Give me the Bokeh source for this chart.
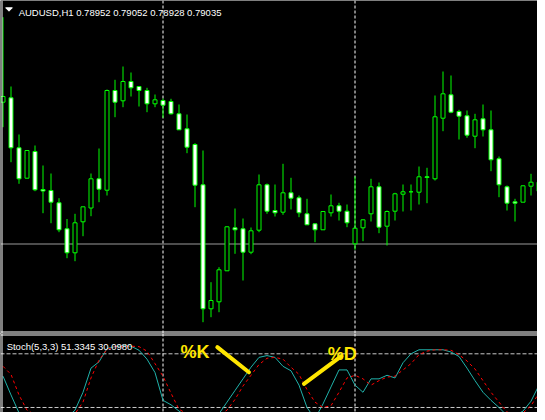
from bokeh.plotting import figure
from bokeh.layouts import column
from bokeh.models import ColumnDataSource, Range1d, Span, Label
from bokeh.embed import file_html
from bokeh.resources import INLINE

# ---- data (AUDUSD H1) ----
bar_index = list(range(-1, 68))
opens = [0.78983, 0.79027, 0.78527, 0.78223, 0.78490, 0.78110, 0.78100, 0.77977, 0.77717, 0.77477,
         0.77787, 0.77925, 0.78217, 0.78103, 0.79100, 0.78997, 0.79190, 0.79140, 0.79100, 0.78967,
         0.79000, 0.78990, 0.78867, 0.78717, 0.78560, 0.78157, 0.76917, 0.76987, 0.77297, 0.77727,
         0.77717, 0.77483, 0.77703, 0.78157, 0.77900, 0.77883, 0.78077, 0.78027, 0.77867, 0.77767,
         0.77707, 0.77877, 0.77947, 0.77893, 0.77567, 0.77727, 0.77867, 0.78137, 0.77743, 0.77893,
         0.78063, 0.78087, 0.78083, 0.78237, 0.78217, 0.78823, 0.79057, 0.78890, 0.78847, 0.78643,
         0.78817, 0.78707, 0.78417, 0.78137, 0.77987, 0.77983, 0.78143, 0.78183, 0.78083]
highs = [0.79833, 0.79140, 0.78660, 0.78500, 0.78550, 0.78350, 0.78270, 0.78023, 0.77815, 0.77867,
         0.77937, 0.78270, 0.78520, 0.79110, 0.79207, 0.79340, 0.79280, 0.79140, 0.79127, 0.79060,
         0.79020, 0.79017, 0.78960, 0.78860, 0.78573, 0.78500, 0.77183, 0.77333, 0.77740, 0.77920,
         0.77820, 0.77730, 0.78260, 0.78170, 0.78160, 0.78367, 0.78227, 0.78050, 0.78017, 0.77770,
         0.77890, 0.78060, 0.77977, 0.77960, 0.78240, 0.77810, 0.78217, 0.78180, 0.77900, 0.78077,
         0.78160, 0.78160, 0.78340, 0.78327, 0.79050, 0.79290, 0.79250, 0.78907, 0.78900, 0.78867,
         0.78960, 0.78900, 0.78440, 0.78150, 0.78017, 0.78150, 0.78267, 0.78200, 0.78120]
lows = [0.78733, 0.78383, 0.78167, 0.78220, 0.78093, 0.77873, 0.77773, 0.77683, 0.77423, 0.77393,
        0.77643, 0.77843, 0.77983, 0.78050, 0.78833, 0.78933, 0.79040, 0.78940, 0.78883, 0.78933,
        0.78827, 0.78860, 0.78707, 0.78473, 0.77933, 0.76783, 0.76833, 0.76883, 0.77295, 0.77467,
        0.77200, 0.77463, 0.77683, 0.77867, 0.77840, 0.77857, 0.77910, 0.77833, 0.77757, 0.77583,
        0.77707, 0.77840, 0.77800, 0.77733, 0.77507, 0.77593, 0.77790, 0.77673, 0.77550, 0.77800,
        0.77890, 0.77900, 0.77960, 0.77973, 0.78200, 0.78693, 0.78873, 0.78610, 0.78627, 0.78523,
        0.78640, 0.78293, 0.78033, 0.77900, 0.77790, 0.77983, 0.78050, 0.78050, 0.78050]
closes = [0.79040, 0.78527, 0.78217, 0.78500, 0.78107, 0.78095, 0.77983, 0.77707, 0.77477, 0.77777,
          0.77937, 0.78217, 0.78113, 0.79100, 0.78983, 0.79190, 0.79127, 0.79100, 0.78967, 0.79007,
          0.78953, 0.78867, 0.78707, 0.78533, 0.78153, 0.76917, 0.77000, 0.77307, 0.77737, 0.77707,
          0.77483, 0.77697, 0.78157, 0.77893, 0.77877, 0.78077, 0.78023, 0.77877, 0.77757, 0.77707,
          0.77890, 0.77947, 0.77893, 0.77777, 0.77723, 0.77807, 0.78137, 0.77733, 0.77890, 0.78067,
          0.78087, 0.78087, 0.78237, 0.78230, 0.78837, 0.79067, 0.78883, 0.78843, 0.78653, 0.78807,
          0.78707, 0.78407, 0.78157, 0.77973, 0.77973, 0.78147, 0.78183, 0.78093, 0.78083]

stoch_k = [55, 34, 14, 13, 9, 11, 11, 13.5, 9, 17, 37, 64, 71, 86, 88, 89, 88.5, 84, 74, 59,
           28, 23, 16, 10, 12, 12, 12, 13, 26, 39, 52, 65, 76, 78, 76, 66, 61, 45, 20, 7.4,
           24, 43, 62, 62, 45, 37, 52, 52, 56, 53, 70, 80, 84.5, 84.5, 84.5, 84.5, 82, 77, 64, 50,
           37, 28, 20, 11, 11, 16, 27, 45, 60]
stoch_d = [66, 57, 34, 17, 12, 11, 11, 11, 12, 13, 26, 53, 73, 85, 88, 88.5, 88.5, 88, 83, 69,
           55, 36, 18, 13, 11, 11, 11, 11, 17, 29, 44, 56, 68, 75, 76, 74, 65, 57, 40, 26,
           20, 22, 37, 53, 56, 52, 45, 50, 54, 55, 62, 69, 79, 83, 84.5, 84.5, 84, 79, 72, 63,
           50, 37, 26, 15, 12, 14, 22, 36, 48]
stoch_levels = [80, 20]
day_separators = [19, 43]
hline_price = 0.77565

header_text = "AUDUSD,H1  0.78952 0.79052 0.78928 0.79035"
stoch_text = "Stoch(5,3,3) 51.3345 30.0980"

GREEN = "#00ff00"
FONT = "Liberation Sans"

tops = [max(o, c) for o, c in zip(opens, closes)]
bottoms = [min(o, c) for o, c in zip(opens, closes)]
fills = ["white" if c < o else "black" for o, c in zip(opens, closes)]
src = ColumnDataSource(dict(x=bar_index, high=highs, low=lows, top=tops, bottom=bottoms, fill=fills))

W = 537
x_rng = Range1d(-1.3125, -1.3125 + W / 8.0)

# ---- main price panel ----
p = figure(width=W, height=333, x_range=x_rng, y_range=Range1d(0.76670, 0.80000),
           output_backend="svg", toolbar_location=None, min_border=0,
           x_axis_location=None, y_axis_location=None,
           background_fill_color="black", border_fill_color="black", outline_line_color=None)
p.grid.visible = False

for s in day_separators:
    p.add_layout(Span(location=s, dimension="height", line_color="white", line_width=1,
                      line_dash="3 2", level="underlay"))
p.add_layout(Span(location=hline_price, dimension="width", line_color="#9a9a9a",
                  line_width=1, level="underlay"))

p.segment(x0="x", y0="high", x1="x", y1="low", source=src, line_color=GREEN, line_width=1)
p.vbar(x="x", width=0.5, top="top", bottom="bottom", source=src,
       fill_color="fill", line_color=GREEN, line_width=1)

p.add_layout(Span(location=-1.125, dimension="height", line_color="white", line_width=1))
p.add_layout(Span(location=0.76685, dimension="width", line_color="white", line_width=1))

p.patch(x=[-0.669, 0.169, -0.25], y=[0.79927, 0.79927, 0.79893], fill_color="white", line_color="white")
p.add_layout(Label(x=0.956, y=0.79883, text=header_text, text_color="white",
                   text_font=FONT, text_font_size="9.5px", text_baseline="alphabetic"))

# ---- stochastic panel ----
q = figure(width=W, height=79, x_range=x_rng, y_range=Range1d(14.41, 102.68),
           output_backend="svg", toolbar_location=None, min_border=0,
           x_axis_location=None, y_axis_location=None,
           background_fill_color="black", border_fill_color="black", outline_line_color=None)
q.grid.visible = False

for lv in stoch_levels:
    q.add_layout(Span(location=lv, dimension="width", line_color="#c8c8c8", line_width=1,
                      line_dash="4 2", level="underlay"))
for s in day_separators:
    q.add_layout(Span(location=s, dimension="height", line_color="white", line_width=1,
                      line_dash="3 2", level="underlay"))

q.line(bar_index, stoch_k, line_color="#20b2aa", line_width=1)
q.line(bar_index, stoch_d, line_color="#ff0000", line_width=1, line_dash="3 3")

q.add_layout(Span(location=-1.125, dimension="height", line_color="white", line_width=1))
q.add_layout(Span(location=101.0, dimension="width", line_color="white", line_width=1))

q.add_layout(Label(x=-0.544, y=88.5, text=stoch_text, text_color="white",
                   text_font=FONT, text_font_size="9.5px", text_baseline="alphabetic"))

YEL = "#ffe600"
q.segment(x0=[25.79, 36.62], y0=[87.4, 46.5], x1=[29.74, 41.29], y1=[59.4, 77.3],
          line_color=YEL, line_width=4, line_cap="round")
q.add_layout(Label(x=21.2, y=81.8, text="%K", text_color=YEL, text_font=FONT,
                   text_font_style="bold", text_font_size="18px", text_baseline="alphabetic"))
q.add_layout(Label(x=39.58, y=80.0, text="%D", text_color=YEL, text_font=FONT,
                   text_font_style="bold", text_font_size="18px", text_baseline="alphabetic"))

layout = column(p, q, spacing=0)
open("out.html", "w").write(file_html(layout, INLINE))
